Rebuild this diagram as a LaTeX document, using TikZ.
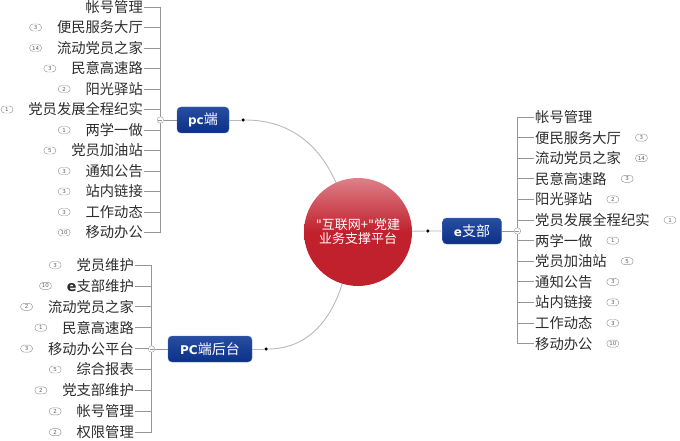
\documentclass[tikz,border=0pt]{standalone}
\usepackage{fontspec}
\setmainfont{Noto Sans CJK SC}
\newfontfamily\latinfont{DejaVu Sans}
\usetikzlibrary{positioning}
\usetikzlibrary{backgrounds}

\definecolor{hubtop}{RGB}{222,128,136}
\definecolor{hubbot}{RGB}{192,33,45}
\definecolor{boxtop}{RGB}{40,78,162}
\definecolor{boxbot}{RGB}{10,48,136}
\definecolor{boxline}{RGB}{80,108,175}
\definecolor{wire}{RGB}{185,185,185}
\definecolor{tree}{RGB}{150,150,150}
\definecolor{badgetext}{RGB}{95,95,95}
\definecolor{itemtext}{RGB}{45,45,45}

\begin{document}
\begin{tikzpicture}[x=1pt, y=1pt, node distance=14pt,
    hubnode/.style={circle, minimum size=108pt, inner sep=0pt, top color=hubtop, bottom color=hubbot, middle color=hubbot, text=white, align=center, font=\fontsize{13}{14}\selectfont},
    branch/.style={draw=boxline, rounded corners=4pt, top color=boxtop, bottom color=boxbot, text=white, minimum height=26pt, inner sep=0pt, font=\fontsize{14}{16}\selectfont},
    item/.style={inner sep=1pt, text=itemtext, font=\fontsize{14.3}{16}\selectfont},
    badge/.style={draw=tree, line width=0.45pt, rounded corners=3.5pt, minimum width=12pt, minimum height=7pt, inner sep=0pt, text=badgetext, font=\latinfont\fontsize{5.5}{5.5}\selectfont},
    knot/.style={circle, fill=black, minimum size=3.5pt, inner sep=0pt},
    fold/.style={circle, draw=tree, fill=white, minimum size=6.5pt, inner sep=0pt, path picture={\draw[tree, line width=0.4pt] ([xshift=1.3pt]path picture bounding box.west) -- ([xshift=-1.3pt]path picture bounding box.east);}},
    wireline/.style={draw=wire, line width=0.9pt},
    treeline/.style={draw=tree, line width=0.8pt}]
    \useasboundingbox (0,0) rectangle (680,-441);

    % Central platform
    \node[hubnode] (hub) at (358,-232) {{\latinfont"}互联网+{\latinfont"}党建\\业务支撑平台};

    % Branch pc端
    \node[branch, minimum width=52pt] (pc) at (203,-120) {{\latinfont\bfseries\fontsize{12}{14}\selectfont pc}端};
    \node[knot, right=12pt of pc] (pcknot) {};
    \node[fold, left=13pt of pc] (pcfold) {};
    % Branch PC端后台
    \node[branch, minimum width=84pt] (back) at (210,-349) {{\latinfont\bfseries\fontsize{12}{14}\selectfont PC}端后台};
    \node[knot, right=12pt of back] (backknot) {};
    \node[fold, left=12.75pt of back] (backfold) {};
    % Branch e支部
    \node[branch, minimum width=59pt] (ebr) at (472,-231) {{\latinfont\bfseries\fontsize{12}{14}\selectfont e}支部};
    \node[knot, left=12.5pt of ebr] (eknot) {};
    \node[fold, right=12.25pt of ebr] (efold) {};

    % Connectors to the centre
    \draw[wireline] (pc) -- (pcknot);
    \draw[wireline] (pcknot) to[out=0, in=114] (hub);
    \draw[wireline] (back) -- (backknot);
    \draw[wireline] (backknot) to[out=0, in=-107] (hub);
    \draw[wireline] (hub) -- (eknot) -- (ebr);
    \draw[treeline] (pcfold) -- (pc);
    \draw[treeline] (backfold) -- (back);
    \draw[treeline] (efold) -- (ebr);

    % pc端 items
    \foreach \name/\num [count=\i from 0] in {帐号管理/0, 便民服务大厅/3, 流动党员之家/14, 民意高速路/3, 阳光驿站/2, 党员发展全程纪实/1, 两学一做/1, 党员加油站/5, 通知公告/3, 站内链接/3, 工作动态/3, 移动办公/10} {
        \node[item, anchor=east] (pc\i) at (144,-7-20.5*\i) {\name};
        \ifnum\num>0 \node[badge, left=14pt of pc\i] (pcb\i) {\num}; \fi
        \begin{scope}[on background layer]
            \draw[treeline] (pcfold.center) |- (pc\i.east);
        \end{scope}
    }

    % PC端后台 items
    \foreach \name/\num [count=\i from 0] in {党员维护/3, {{\latinfont\bfseries e}支部维护}/10, 流动党员之家/2, 民意高速路/1, 移动办公平台/3, 综合报表/5, 党支部维护/2, 帐号管理/2, 权限管理/2} {
        \node[item, anchor=east] (back\i) at (135,-265-20.9*\i) {\name};
        \node[badge, left=14pt of back\i] (backb\i) {\num};
        \begin{scope}[on background layer]
            \draw[treeline] (backfold.center) |- (back\i.east);
        \end{scope}
    }

    % e支部 items
    \foreach \name/\num [count=\i from 0] in {帐号管理/0, 便民服务大厅/3, 流动党员之家/14, 民意高速路/3, 阳光驿站/2, 党员发展全程纪实/1, 两学一做/1, 党员加油站/5, 通知公告/3, 站内链接/3, 工作动态/3, 移动办公/10} {
        \node[item, anchor=west] (e\i) at (534,-117-20.6*\i) {\name};
        \ifnum\num>0 \node[badge, right=13pt of e\i] (eb\i) {\num}; \fi
        \begin{scope}[on background layer]
            \draw[treeline] (efold.center) |- (e\i.west);
        \end{scope}
    }
\end{tikzpicture}
\end{document}
